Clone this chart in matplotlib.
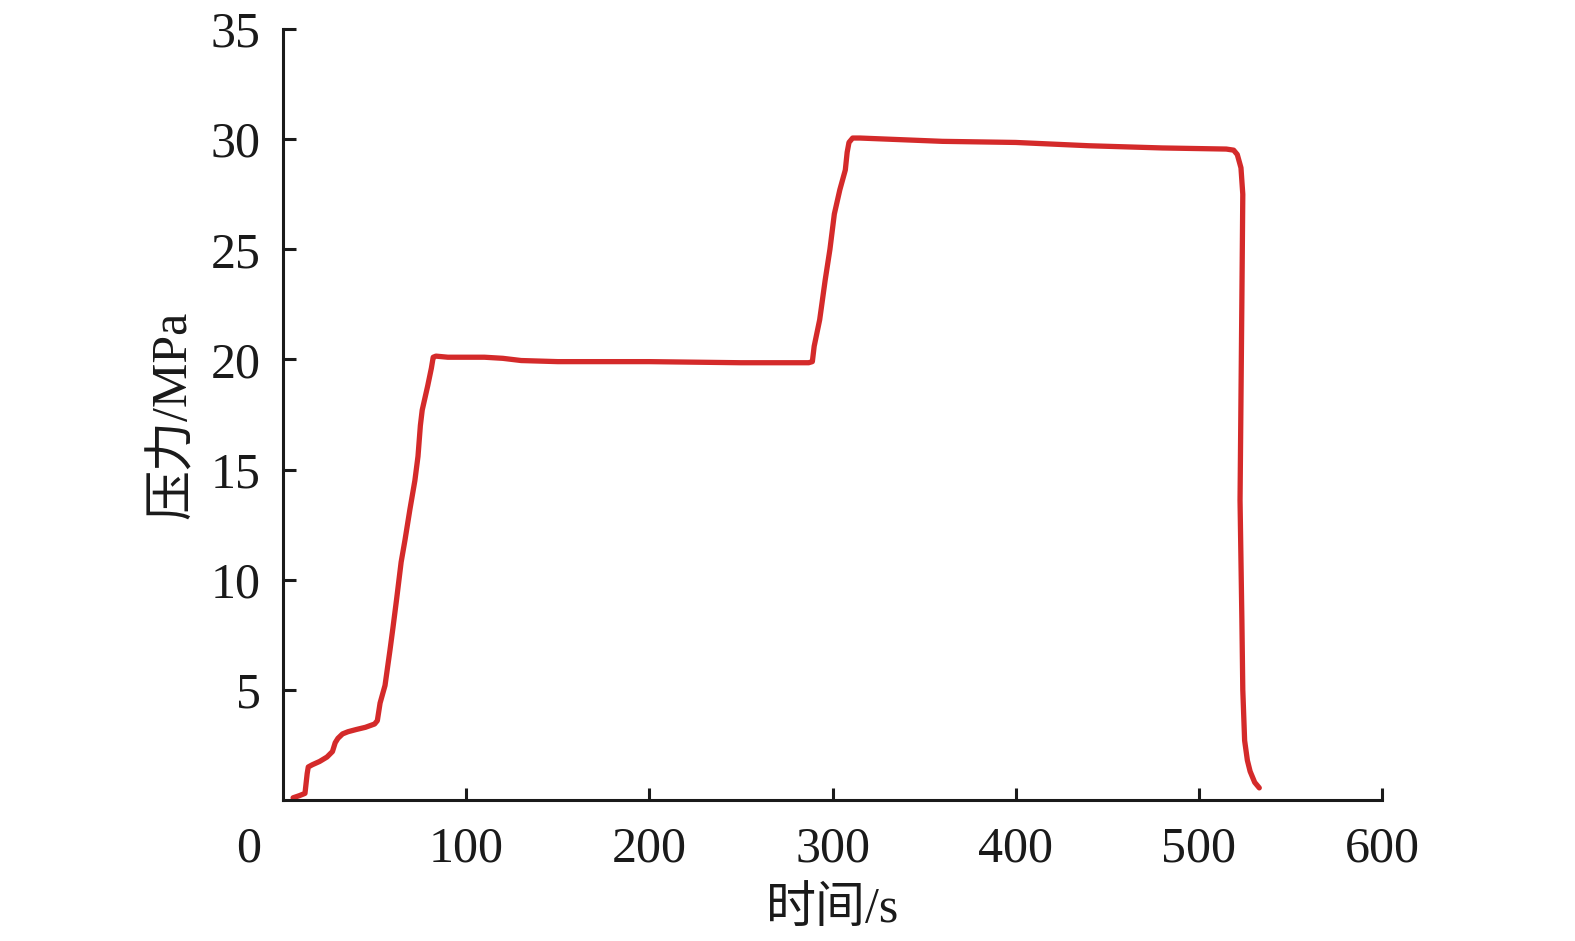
import matplotlib
matplotlib.use("Agg")
import matplotlib.pyplot as plt

# time (s) and pressure (MPa)
time_s = [5.5, 9, 12, 13.2, 13.8, 16, 20, 24, 27, 28.5, 30, 32.5, 35.5, 40, 45, 50, 51.5, 53, 55.7, 58.4, 60, 62, 64.5,
          66.6, 69.3, 72, 73.7, 75, 76, 79, 81, 82, 83.5,
          90, 110, 120, 130, 150, 200, 250, 280, 287, 289, 290, 293, 296, 298.6, 301, 304, 307, 308, 309, 311,
          315, 330, 360, 400, 440, 480, 515, 519, 521, 523, 524, 523.5, 522.5, 523.5, 524, 525, 526.5, 528, 530.5, 533]
pressure = [0.1, 0.2, 0.3, 1.2, 1.5, 1.6, 1.75, 1.95, 2.2, 2.6, 2.8, 3.0, 3.1, 3.2, 3.3, 3.45, 3.6, 4.4, 5.2, 6.8, 7.8, 9.1, 10.8,
            11.8, 13.2, 14.5, 15.6, 17.0, 17.7, 18.8, 19.6, 20.1, 20.15,
            20.1, 20.1, 20.05, 19.95, 19.9, 19.9, 19.85, 19.85, 19.85, 19.9, 20.6, 21.8, 23.6, 25.0, 26.6, 27.7, 28.6, 29.4, 29.85, 30.05,
            30.05, 30.0, 29.9, 29.85, 29.7, 29.6, 29.55, 29.5, 29.3, 28.7, 27.5, 22.7, 13.6, 8.2, 5.0, 2.7, 1.8, 1.3, 0.8, 0.55]

x_ticks = [100, 200, 300, 400, 500, 600]
y_ticks = [5, 10, 15, 20, 25, 30, 35]

plt.rcParams['font.family'] = ['Liberation Serif', 'Noto Sans CJK SC']

fig = plt.figure(figsize=(15.75, 9.41), dpi=100)
ax = fig.add_axes([283/1575, 1 - 800/941, (1382-283)/1575, (800-29)/941])

ax.plot(time_s, pressure, color='#d42a2a', lw=3.8, solid_joinstyle='round', solid_capstyle='round')

ax.set_xlim(0, 600)
ax.set_ylim(0, 35)
ax.set_xticks(x_ticks)
ax.set_yticks(y_ticks)
ax.set_xticklabels([str(v) for v in x_ticks])
ax.set_yticklabels([str(v) for v in y_ticks])

for s in ['top', 'right']:
    ax.spines[s].set_visible(False)
for s in ['left', 'bottom']:
    ax.spines[s].set_linewidth(2.2)
    ax.spines[s].set_color('#1a1a1a')

ax.tick_params(axis='both', direction='in', length=9, width=2.2, color='#1a1a1a',
               labelsize=36, labelcolor='#1a1a1a')
ax.tick_params(axis='x', pad=19)
ax.tick_params(axis='y', pad=16)

ax.annotate('0', xy=(0, 0), xycoords='axes fraction', xytext=(-25, -19),
            textcoords='offset points', ha='center', va='top', fontsize=36, color='#1a1a1a')

ax.set_xlabel('时间/s', fontsize=36, color='#1a1a1a', labelpad=10)
ax.set_ylabel('压力/MPa', fontsize=36, color='#1a1a1a', labelpad=10)

fig.savefig('out.png', dpi=100, facecolor='white')
